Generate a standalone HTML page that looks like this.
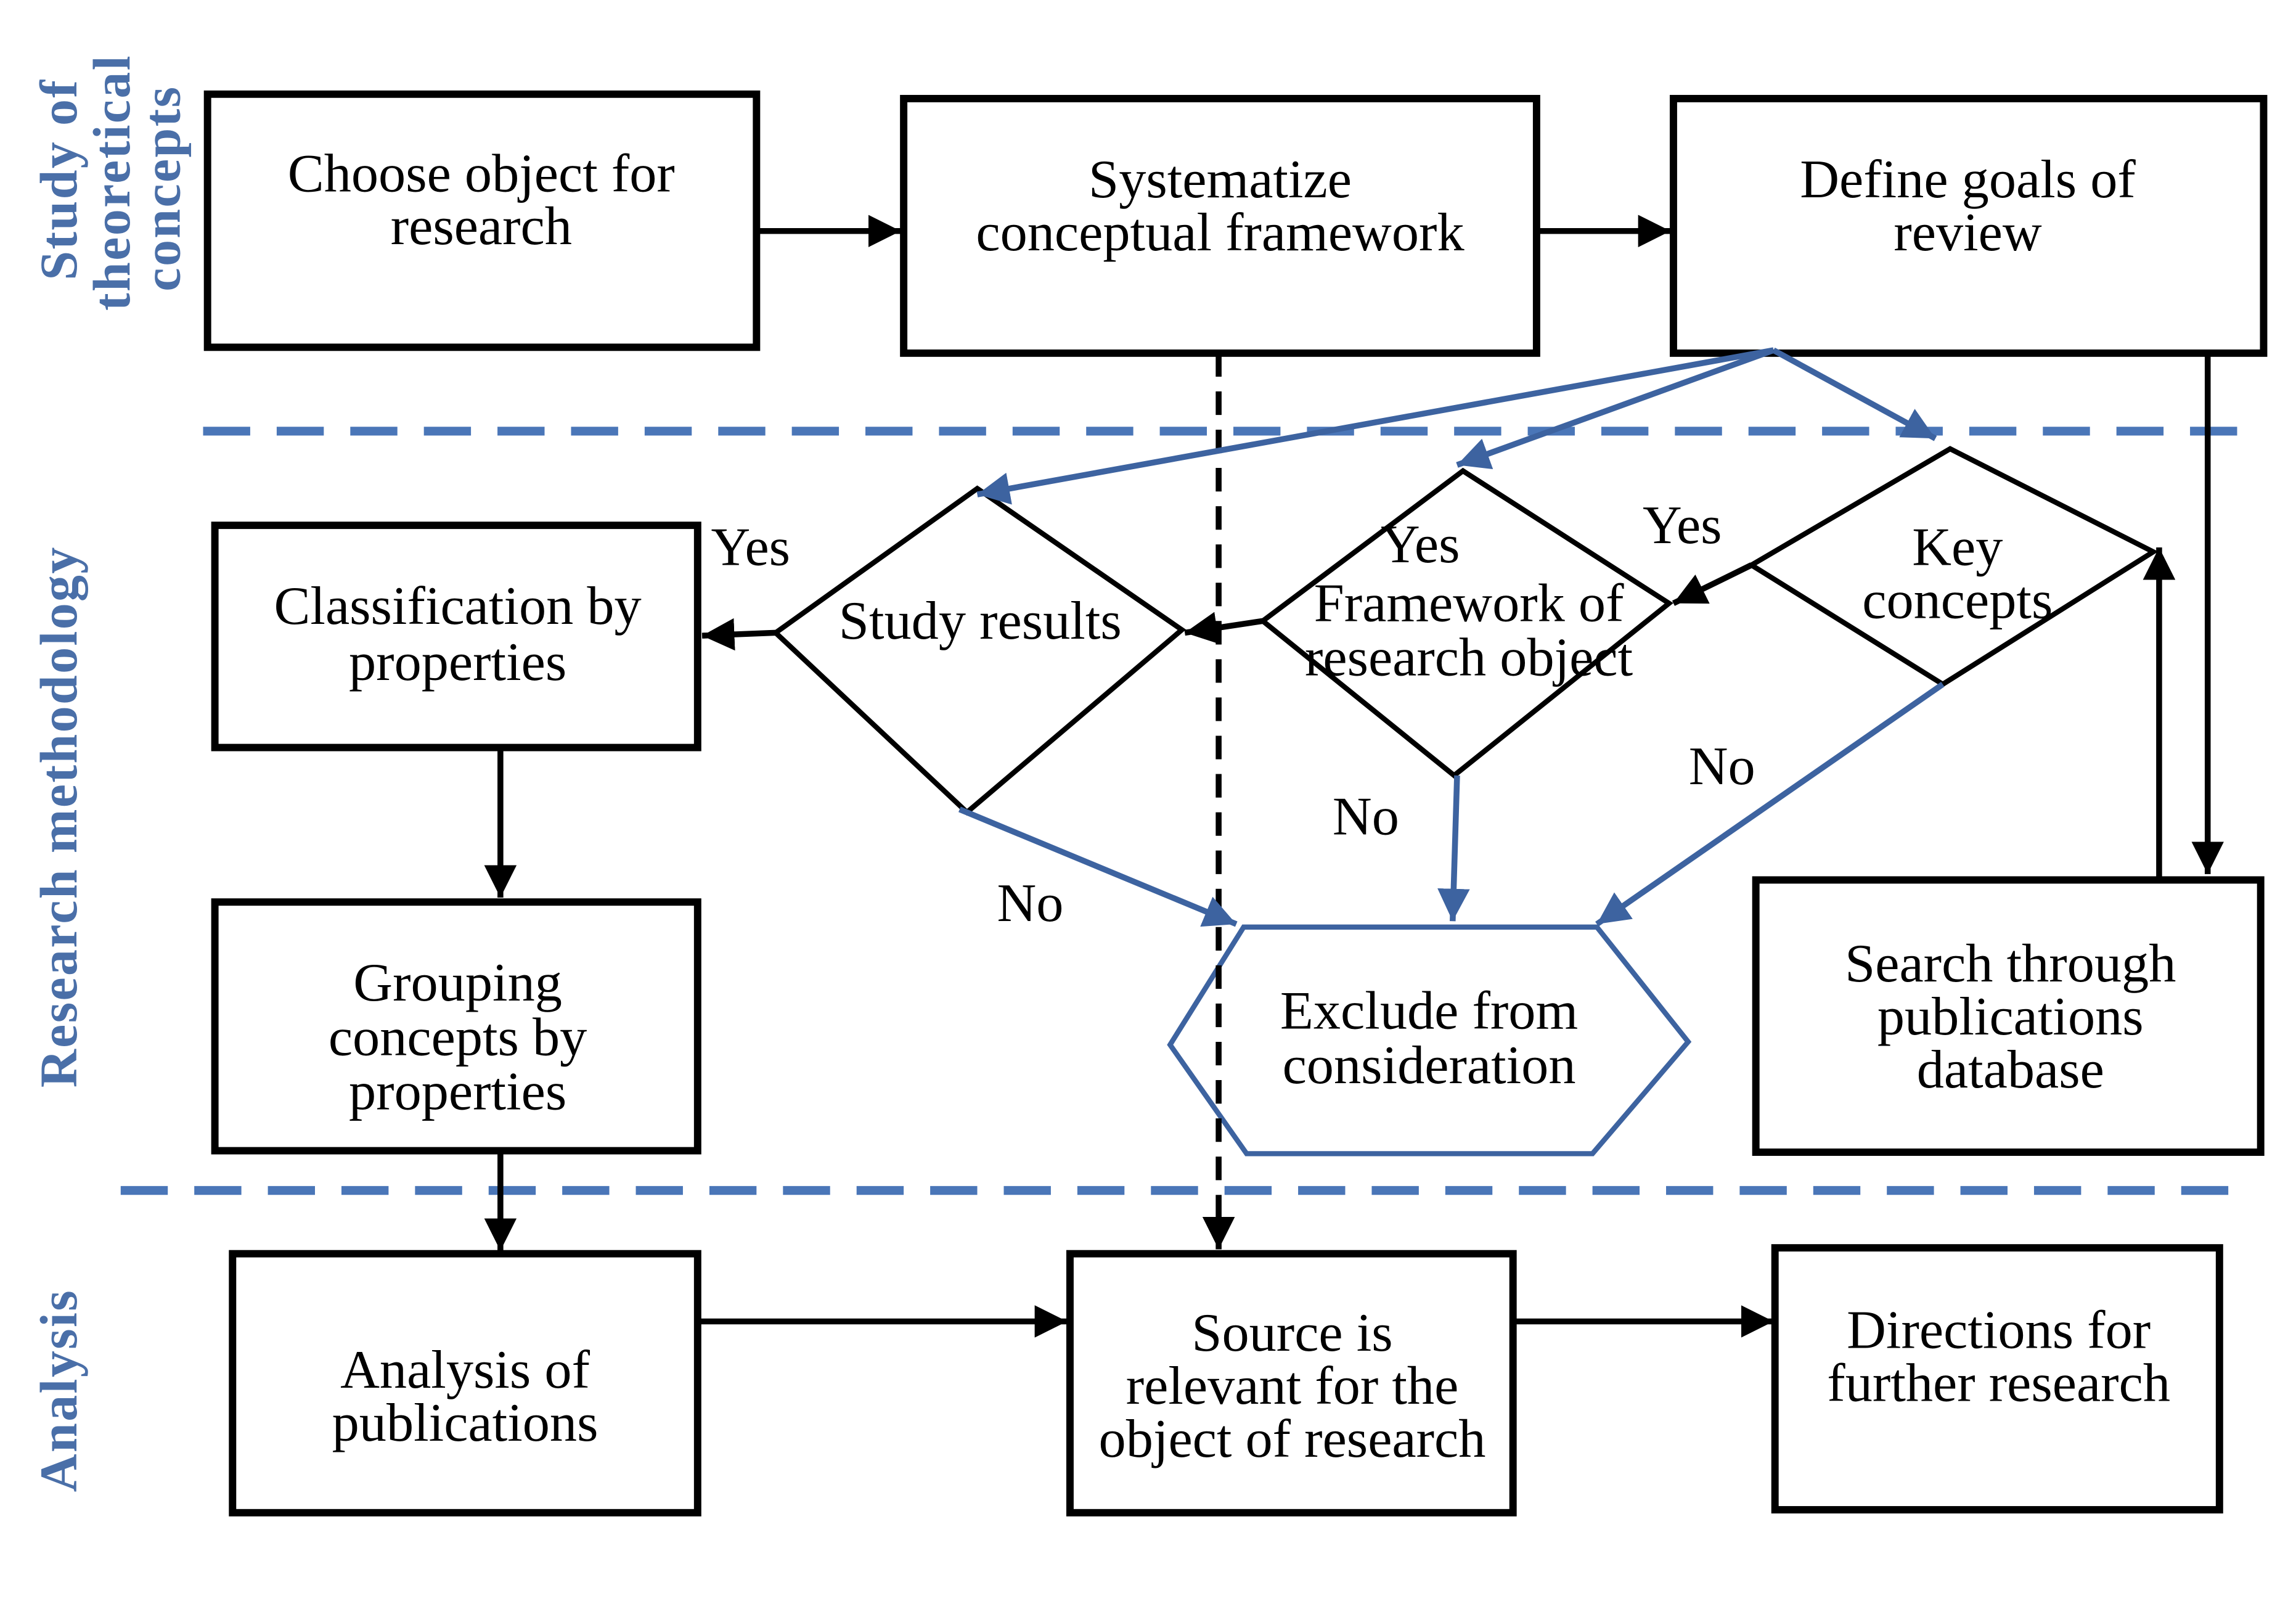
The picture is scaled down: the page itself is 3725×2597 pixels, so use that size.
<!DOCTYPE html>
<html><head><meta charset="utf-8"><style>
html,body{margin:0;padding:0;background:#fff}
svg{display:block}
text{font-family:"Liberation Serif",serif;font-size:37px;fill:#000;text-anchor:middle}
.lbl{fill:#4a6fa8;font-size:36px;font-weight:bold;letter-spacing:1px}
</style></head><body>
<svg width="3725" height="2597" viewBox="0 0 1560 1088" preserveAspectRatio="none" xmlns="http://www.w3.org/2000/svg">
<defs>
<marker id="k" viewBox="0 0 20 20" refX="20" refY="10" markerWidth="22" markerHeight="22" orient="auto" markerUnits="userSpaceOnUse"><path d="M0,0 L20,10 L0,20 z" fill="#000"/></marker>
<marker id="b" viewBox="0 0 20 20" refX="20" refY="10" markerWidth="22" markerHeight="22" orient="auto" markerUnits="userSpaceOnUse"><path d="M0,0 L20,10 L0,20 z" fill="#3d63a0"/></marker>
</defs>
<text class="lbl" transform="translate(52,122) rotate(-90)">Study of</text>
<text class="lbl" transform="translate(88,124) rotate(-90)">theoretical</text>
<text class="lbl" transform="translate(122,128) rotate(-90)">concepts</text>
<text class="lbl" transform="translate(52,555) rotate(-90)">Research methodology</text>
<text class="lbl" transform="translate(52,945) rotate(-90)">Analysis</text>
<line x1="138" y1="293" x2="1535" y2="293" stroke="#4a76b8" stroke-width="6" stroke-dasharray="32,18"/>
<line x1="82" y1="809" x2="1520" y2="809" stroke="#4a76b8" stroke-width="6" stroke-dasharray="32,18"/>
<g fill="none" stroke="#000" stroke-width="5">
<rect x="141" y="64" width="373" height="172"/>
<rect x="614" y="67" width="430" height="173"/>
<rect x="1137" y="67" width="401" height="173"/>
<rect x="146" y="357" width="328" height="151"/>
<rect x="146" y="613" width="328" height="169"/>
<rect x="158" y="852" width="316" height="176"/>
<rect x="727" y="852" width="301" height="176"/>
<rect x="1206" y="848" width="302" height="178"/>
<rect x="1193" y="598" width="343" height="185"/>
</g>
<g fill="none" stroke="#000" stroke-width="3.5">
<polygon points="664,332 803,428 657,552 527,430"/>
<polygon points="994,320 1134,410 988,527 858,422"/>
<polygon points="1325,305 1463,375 1320,465 1190,384"/>
</g>
<polygon points="795,710 845,630 1085,630 1147,708 1082,784 847,784" fill="none" stroke="#3d63a0" stroke-width="3.5"/>
<g stroke="#000" stroke-width="4" fill="none">
<line x1="514" y1="157" x2="612" y2="157" marker-end="url(#k)"/>
<line x1="1044" y1="157" x2="1135" y2="157" marker-end="url(#k)"/>
<line x1="828" y1="240" x2="828" y2="849" stroke-dasharray="16,10" marker-end="url(#k)"/>
<line x1="1500" y1="240" x2="1500" y2="594" marker-end="url(#k)"/>
<line x1="1467" y1="598" x2="1467" y2="372" marker-end="url(#k)"/>
<line x1="1190" y1="384" x2="1137" y2="410" marker-end="url(#k)"/>
<line x1="858" y1="422" x2="805" y2="430" marker-end="url(#k)"/>
<line x1="527" y1="430" x2="477" y2="432" marker-end="url(#k)"/>
<line x1="340" y1="508" x2="340" y2="610" marker-end="url(#k)"/>
<line x1="340" y1="782" x2="340" y2="850" marker-end="url(#k)"/>
<line x1="474" y1="898" x2="725" y2="898" marker-end="url(#k)"/>
<line x1="1028" y1="898" x2="1205" y2="898" marker-end="url(#k)"/>
</g>
<g stroke="#3d63a0" stroke-width="4" fill="none">
<line x1="1205" y1="238" x2="664" y2="336" marker-end="url(#b)"/>
<line x1="1205" y1="238" x2="990" y2="316" marker-end="url(#b)"/>
<line x1="1205" y1="238" x2="1315" y2="298" marker-end="url(#b)"/>
<line x1="652" y1="550" x2="840" y2="628" marker-end="url(#b)"/>
<line x1="990" y1="527" x2="987" y2="626" marker-end="url(#b)"/>
<line x1="1320" y1="465" x2="1085" y2="628" marker-end="url(#b)"/>
</g>
<text x="327" y="130">Choose object for</text>
<text x="327" y="166">research</text>
<text x="829" y="134">Systematize</text>
<text x="829" y="170">conceptual framework</text>
<text x="1337" y="134">Define goals of</text>
<text x="1337" y="170">review</text>
<text x="311" y="424">Classification by</text>
<text x="311" y="462">properties</text>
<text x="311" y="680">Grouping</text>
<text x="311" y="717">concepts by</text>
<text x="311" y="754">properties</text>
<text x="316" y="943">Analysis of</text>
<text x="316" y="979">publications</text>
<text x="878" y="918">Source is</text>
<text x="878" y="954">relevant for the</text>
<text x="878" y="990">object of research</text>
<text x="1358" y="916">Directions for</text>
<text x="1358" y="952">further research</text>
<text x="1366" y="667">Search through</text>
<text x="1366" y="703">publications</text>
<text x="1366" y="739">database</text>
<text x="971" y="699">Exclude from</text>
<text x="971" y="736">consideration</text>
<text x="666" y="434">Study results</text>
<text x="965" y="382">Yes</text>
<text x="998" y="422">Framework of</text>
<text x="998" y="459">research object</text>
<text x="1330" y="384">Key</text>
<text x="1330" y="420">concepts</text>
<text x="510" y="384">Yes</text>
<text x="1143" y="369">Yes</text>
<text x="700" y="626">No</text>
<text x="928" y="567">No</text>
<text x="1170" y="533">No</text>
</svg>
</body></html>
